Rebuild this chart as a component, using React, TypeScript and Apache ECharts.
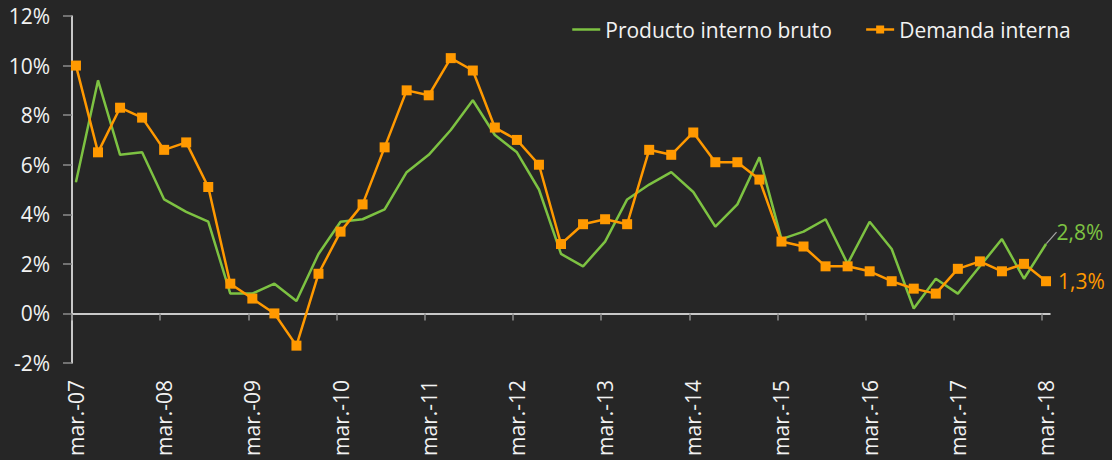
import React, { useEffect, useRef } from "react";
import * as echarts from "echarts";

const quarters = [
  "mar.-07", "jun.-07", "sep.-07", "dic.-07",
  "mar.-08", "jun.-08", "sep.-08", "dic.-08",
  "mar.-09", "jun.-09", "sep.-09", "dic.-09",
  "mar.-10", "jun.-10", "sep.-10", "dic.-10",
  "mar.-11", "jun.-11", "sep.-11", "dic.-11",
  "mar.-12", "jun.-12", "sep.-12", "dic.-12",
  "mar.-13", "jun.-13", "sep.-13", "dic.-13",
  "mar.-14", "jun.-14", "sep.-14", "dic.-14",
  "mar.-15", "jun.-15", "sep.-15", "dic.-15",
  "mar.-16", "jun.-16", "sep.-16", "dic.-16",
  "mar.-17", "jun.-17", "sep.-17", "dic.-17",
  "mar.-18",
];

const pib = [
  5.3, 9.4, 6.4, 6.5, 4.6, 4.1, 3.7, 0.8, 0.8, 1.2, 0.5, 2.4, 3.7, 3.8, 4.2,
  5.7, 6.4, 7.4, 8.6, 7.2, 6.5, 5.0, 2.4, 1.9, 2.9, 4.6, 5.2, 5.7, 4.9, 3.5,
  4.4, 6.3, 3.0, 3.3, 3.8, 2.0, 3.7, 2.6, 0.2, 1.4, 0.8, 1.9, 3.0, 1.4, 2.8,
];

const demanda = [
  10.0, 6.5, 8.3, 7.9, 6.6, 6.9, 5.1, 1.2, 0.6, 0.0, -1.3, 1.6, 3.3, 4.4, 6.7,
  9.0, 8.8, 10.3, 9.8, 7.5, 7.0, 6.0, 2.8, 3.6, 3.8, 3.6, 6.6, 6.4, 7.3, 6.1,
  6.1, 5.4, 2.9, 2.7, 1.9, 1.9, 1.7, 1.3, 1.0, 0.8, 1.8, 2.1, 1.7, 2.0, 1.3,
];

const seriesNames = ["Producto interno bruto", "Demanda interna"];
const yTicks = [-2, 0, 2, 4, 6, 8, 10, 12];

const GREEN = "#7dc242";
const ORANGE = "#ff9900";
const TEXT = "#f2f2f2";
const FONT = "Open Sans";
const FS = 21;

const fmtPct = (v: number) => v.toFixed(1).replace(".", ",") + "%";

export default function App() {
  const ref = useRef<HTMLDivElement>(null);

  useEffect(() => {
    document.body.style.margin = "0";
    document.body.style.background = "#262626";
    if (!ref.current) return;
    const chart = echarts.init(ref.current, null, { renderer: "svg" });

    const labelIdx: number[] = [];
    quarters.forEach((_, i) => {
      if (i % 4 === 0) labelIdx.push(i);
    });
    const shift = 0.18;
    const tickIdx = labelIdx.map((i) => i - shift);
    const last = quarters.length - 1;

    const mkData = (arr: number[], color: string) =>
      arr.map((v, i) => {
        if (i !== last) return [i, v];
        return {
          value: [i, v],
          label: {
            show: true,
            position: "right",
            distance: 7,
            formatter: fmtPct(v),
            color,
            fontFamily: FONT,
            fontSize: FS,
          },
        };
      });

    chart.setOption({
      animation: false,
      backgroundColor: "#262626",
      textStyle: { fontFamily: FONT },
      grid: {
        left: 72,
        right: 62,
        top: 16,
        bottom: 97,
        containLabel: false,
        outerBoundsMode: "none",
      },
      legend: {
        left: 566,
        top: 14,
        itemWidth: 28,
        itemHeight: 10,
        itemGap: 33,
        data: [
          { name: seriesNames[0], itemStyle: { opacity: 0 }, lineStyle: { width: 2.5 } },
          { name: seriesNames[1], lineStyle: { width: 2.5 } },
        ],
        textStyle: { color: TEXT, fontSize: FS, fontFamily: FONT },
      },
      xAxis: {
        type: "value",
        min: -shift,
        max: last + shift,
        splitLine: { show: false },
        axisLine: {
          onZero: true,
          lineStyle: { color: "#ffffff", width: 1.5 },
        },
        axisTick: {
          show: true,
          length: 7,
          customValues: tickIdx,
          lineStyle: { color: "#8c8c8c", width: 1.5 },
        },
        axisLabel: {
          customValues: labelIdx,
          rotate: 90,
          margin: 17,
          color: TEXT,
          fontSize: FS,
          fontFamily: FONT,
          formatter: (v: number) => quarters[Math.round(v)] ?? "",
        },
      },
      yAxis: {
        type: "value",
        min: yTicks[0],
        max: yTicks[yTicks.length - 1],
        interval: 2,
        splitLine: { show: false },
        axisLine: {
          show: true,
          onZero: false,
          lineStyle: { color: "#ffffff", width: 1.5 },
        },
        axisTick: {
          show: true,
          length: 9,
          lineStyle: { color: "#8c8c8c", width: 1.5 },
        },
        axisLabel: {
          margin: 22,
          color: TEXT,
          fontSize: FS,
          fontFamily: FONT,
          formatter: (v: number) => `${v}%`,
        },
      },
      series: [
        {
          name: seriesNames[0],
          type: "line",
          data: mkData(pib, GREEN),
          symbol: "circle",
          symbolSize: 1,
          showAllSymbol: true,
          lineStyle: { color: GREEN, width: 2.5 },
          itemStyle: { color: GREEN },
          labelLayout: { dy: -12, dx: 3 },
          labelLine: { show: true, lineStyle: { color: "#a6a6a6", width: 1.2 } },
          z: 2,
        },
        {
          name: seriesNames[1],
          type: "line",
          data: mkData(demanda, ORANGE),
          symbol: "rect",
          symbolSize: 10,
          showAllSymbol: true,
          lineStyle: { color: ORANGE, width: 2.5 },
          itemStyle: { color: ORANGE },
          z: 3,
        },
      ],
    });

    return () => chart.dispose();
  }, []);

  return <div ref={ref} style={{ width: 1112, height: 460 }} />;
}
